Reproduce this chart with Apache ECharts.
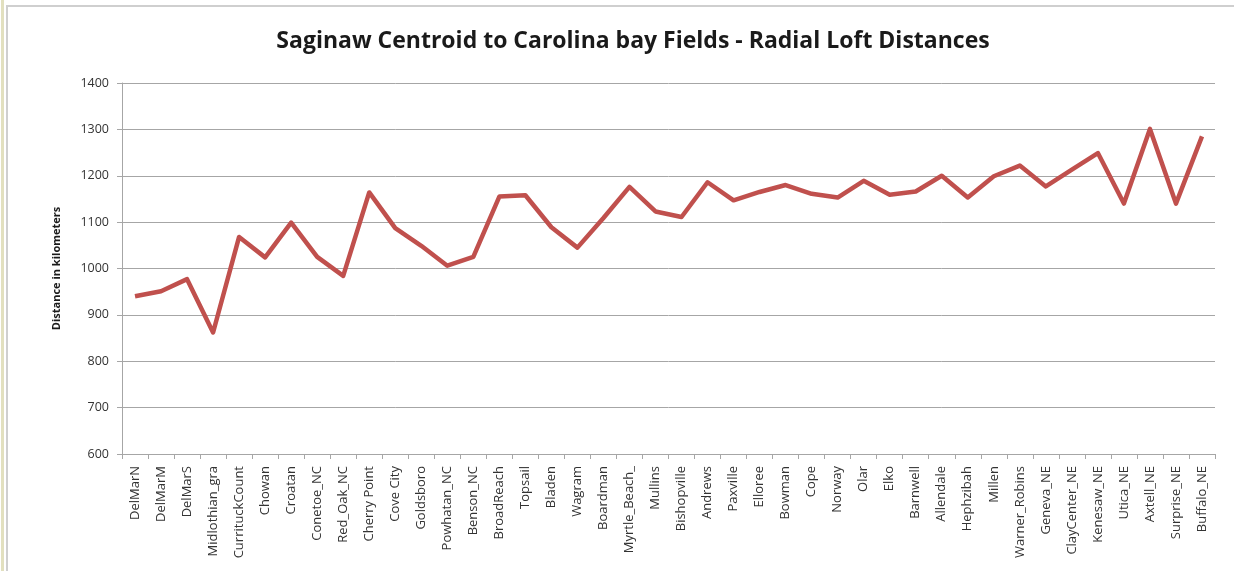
<!DOCTYPE html>
<html>
<head>
<meta charset="utf-8">
<script src="https://cdn.jsdelivr.net/npm/echarts@6/dist/echarts.min.js"></script>
<style>
  html, body { margin: 0; padding: 0; background: #ffffff; }
  #chart { width: 1234px; height: 571px; }
</style>
</head>
<body>
<div id="chart"></div>
<script>
// Carolina bay fields, in the order plotted
const sites = [
  'DelMarN', 'DelMarM', 'DelMarS', 'Midlothian_gra', 'CurrituckCount',
  'Chowan', 'Croatan', 'Conetoe_NC', 'Red_Oak_NC', 'Cherry Point',
  'Cove City', 'Goldsboro', 'Powhatan_NC', 'Benson_NC', 'BroadReach',
  'Topsail', 'Bladen', 'Wagram', 'Boardman', 'Myrtle_Beach_',
  'Mullins', 'Bishopville', 'Andrews', 'Paxville', 'Elloree',
  'Bowman', 'Cope', 'Norway', 'Olar', 'Elko',
  'Barnwell', 'Allendale', 'Hephzibah', 'Millen', 'Warner_Robins',
  'Geneva_NE', 'ClayCenter_NE', 'Kenesaw_NE', 'Utica_NE', 'Axtell_NE',
  'Surprise_NE', 'Buffalo_NE'
];

// Radial loft distance from the Saginaw centroid, km
const distanceKm = [
  940, 951, 977, 862, 1068,
  1024, 1099, 1025, 984, 1164,
  1087, 1049, 1006, 1025, 1155,
  1158, 1089, 1045, 1109, 1176,
  1123, 1111, 1186, 1147, 1165,
  1180, 1161, 1153, 1189, 1159,
  1166, 1200, 1153, 1199, 1222,
  1177, 1213, 1249, 1140, 1301,
  1140, 1285
];

// Value axis ticks
const yMin = 600;
const yMax = 1400;
const yStep = 100;

const chart = echarts.init(document.getElementById('chart'), null, { renderer: 'canvas' });

const gridColor = '#a6a6a6';
const labelFont = '"Open Sans", "Noto Sans", sans-serif';

chart.setOption({
  animation: false,
  backgroundColor: '#ffffff',
  title: {
    text: 'Saginaw Centroid to Carolina bay Fields - Radial Loft Distances',
    left: 628,
    textAlign: 'center',
    top: 25,
    textStyle: {
      fontFamily: labelFont,
      fontWeight: 'bold',
      fontSize: 23,
      color: '#1a1a1a'
    }
  },
  graphic: [
    // chart frame
    { type: 'rect', shape: { x: 1, y: 0, width: 3, height: 571 }, style: { fill: '#e2e0bf' }, silent: true },
    { type: 'rect', shape: { x: 6, y: 5, width: 2, height: 566 }, style: { fill: '#cfcfcf' }, silent: true },
    { type: 'rect', shape: { x: 6, y: 5, width: 1228, height: 2 }, style: { fill: '#cfcfcf' }, silent: true }
  ],
  grid: {
    left: 122,
    right: 19,
    top: 83,
    bottom: 117
  },
  xAxis: {
    type: 'category',
    data: sites,
    boundaryGap: true,
    axisLine: { lineStyle: { color: gridColor, width: 1 } },
    axisTick: { show: true, alignWithLabel: false, length: 5, lineStyle: { color: gridColor } },
    axisLabel: {
      interval: 0,
      rotate: 90,
      margin: 12,
      fontFamily: labelFont,
      fontSize: 13,
      color: '#333333'
    }
  },
  yAxis: {
    type: 'value',
    min: yMin,
    max: yMax,
    interval: yStep,
    name: 'Distance in kilometers',
    nameLocation: 'middle',
    nameGap: 60,
    nameTextStyle: {
      fontFamily: labelFont,
      fontWeight: 'bold',
      fontSize: 11,
      color: '#1a1a1a'
    },
    axisLine: { show: true, lineStyle: { color: gridColor, width: 1 } },
    axisTick: { show: true, length: 5, lineStyle: { color: gridColor } },
    splitLine: { show: true, lineStyle: { color: gridColor, width: 1 } },
    axisLabel: {
      margin: 13,
      fontFamily: labelFont,
      fontSize: 12.5,
      color: '#333333',
      formatter: function (v) { return String(v); }
    }
  },
  series: [{
    type: 'line',
    data: distanceKm,
    symbol: 'none',
    lineStyle: { color: '#c0504d', width: 4.5, join: 'round' },
    itemStyle: { color: '#c0504d' }
  }]
});
</script>
</body>
</html>
